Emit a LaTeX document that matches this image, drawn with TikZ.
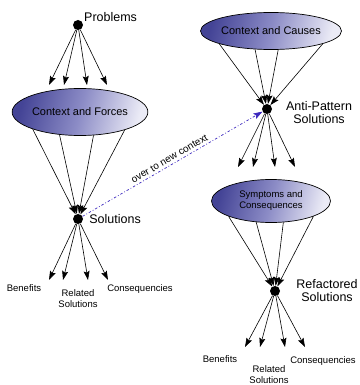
\documentclass[tikz,border=0pt]{standalone}
\usepackage{fontspec}
\setmainfont{Liberation Sans}
\usepackage{xcolor}
\usetikzlibrary{arrows.meta, positioning, calc, shapes.geometric}

\definecolor{blobdark}{RGB}{68,68,150}
\definecolor{blobmid}{RGB}{140,140,198}
\definecolor{blobpale}{RGB}{235,235,246}
\definecolor{hopcol}{RGB}{60,40,190}

\begin{document}
\begin{tikzpicture}[
  x=1pt,
  y=-1pt,
  dot/.style={circle, fill=black, inner sep=0pt, minimum size=10pt},
  blob/.style={ellipse, draw, line width=0.7pt, minimum width=119pt, inner sep=0pt, align=center,
    left color=blobdark, right color=blobpale, middle color=blobmid, shading angle=75},
  big/.style={inner sep=1pt, align=center, font=\fontsize{12.5}{13}\selectfont},
  mid/.style={font=\fontsize{11}{12}\selectfont},
  note/.style={inner sep=1pt, align=center, font=\fontsize{9.5}{11}\selectfont},
  arr/.style={-{Stealth[length=9pt, width=6pt, inset=1.5pt]}, line width=0.6pt},
  hop/.style={-{Stealth[length=9pt, width=6pt, inset=1.5pt]}, line width=0.7pt, hopcol,
    dash pattern=on 2.5pt off 2pt on 0.8pt off 2pt}
]
\useasboundingbox (0,0) rectangle (359,385);

% Pattern (left)
\node[dot] (prob) at (78,25) {};
\node[big, anchor=west] (probtxt) at ($(prob)+(5,-8)$) {Problems};
\node[blob, mid, minimum height=47pt] (forces) at (80,112) {Context and Forces};
\node[dot] (sol) at (78,219) {};
\node[big, right=5pt of sol] (soltxt) {Solutions};

\foreach \dx in {-29,-14,9,29}
  \draw[arr] (prob) -- ($(prob)+(\dx,60)$);
\foreach \a in {200,228,300,338}
  \draw[arr] (forces.\a) -- (sol);
\foreach \dx in {-29,-15,10,30}
  \draw[arr] (sol) -- ($(sol)+(\dx,61)$);

\node[note] (benL) at (24,288) {Benefits};
\node[note] (relL) at (78,299) {Related\\Solutions};
\node[note] (conL) at (140,289) {Consequencies};

% Anti-pattern (right)
\node[blob, mid, minimum height=37pt] (causes) at (271,31) {Context and Causes};
\node[dot] (anti) at (267,109) {};
\node[big] (antitxt) at (319,113) {Anti-Pattern\\Solutions};
\node[blob, note, inner sep=0pt, minimum height=43pt] (symptoms) at (271,201) {Symptoms and\\Consequences};
\node[dot] (ref) at (275,291) {};
\node[big] (reftxt) at (327,291) {Refactored\\Solutions};

\foreach \a in {194,229,291,346}
  \draw[arr] (causes.\a) -- (anti);
\foreach \dx in {-29,-14,8,28}
  \draw[arr] (anti) -- ($(anti)+(\dx,58)$);
\foreach \a in {200,235,300,340}
  \draw[arr] (symptoms.\a) -- (ref);
\foreach \dx in {-30,-15,10,30}
  \draw[arr] (ref) -- ($(ref)+(\dx,56)$);

\node[note] (benR) at (220,359) {Benefits};
\node[note] (relR) at (269,375) {Related\\Solutions};
\node[note] (conR) at (323,361) {Consequencies};

% Change of context
\draw[hop] (sol) -- node[note, font=\fontsize{10}{11}\selectfont, sloped, above=1.5pt, text=black] (hoptxt) {over to new context} (anti);

\end{tikzpicture}
\end{document}
